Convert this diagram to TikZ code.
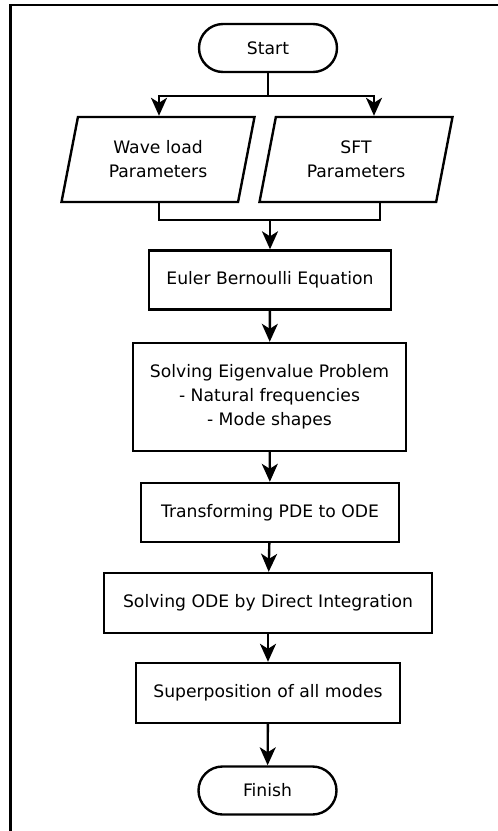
\documentclass[tikz,border=0pt]{standalone}
\usepackage{fontspec}
\setmainfont{DejaVu Sans}
\usetikzlibrary{shapes.geometric,arrows.meta}
\begin{document}
\begin{tikzpicture}[x=0.5pt,y=-0.5pt,line width=1.2pt,
    font=\fontsize{8.6}{12}\selectfont,
    >={Stealth[length=9pt,width=8pt,inset=2.5pt]},
    terminal/.style={draw,rectangle,rounded corners=12pt,minimum width=69pt,minimum height=24pt},
    io/.style={draw,trapezium,trapezium left angle=72,trapezium right angle=108,
      trapezium stretches body,minimum width=96.5pt,minimum height=42.5pt,align=center},
    process/.style={draw,rectangle,minimum height=29.5pt,align=center}]
      \useasboundingbox (0,0) rectangle (498,831);
      \draw (10.5,831) -- (10.5,5) -- (498,5);
      \node[terminal] (start) at (268,48) {Start};
      \node[io] (wave) at (158,159.5) {Wave load\\Parameters};
      \node[io] (sft) at (356,159.5) {SFT\\Parameters};
      \node[process,minimum width=121pt] (euler) at (270,280) {Euler Bernoulli Equation};
      \node[process,minimum width=136.5pt,minimum height=54pt] (eigen) at (269.5,397)
        {Solving Eigenvalue Problem\\- Natural frequencies\\- Mode shapes};
      \node[process,minimum width=129pt] (pde) at (270,512.5) {Transforming PDE to ODE};
      \node[process,minimum width=164pt,minimum height=30pt] (ode) at (268,603)
        {Solving ODE by Direct Integration};
      \node[process,minimum width=132pt,minimum height=30pt] (modes) at (268,693)
        {Superposition of all modes};
      \node[terminal] (finish) at (267.5,790.5) {Finish};
      \coordinate (forkL) at (159,96);
      \coordinate (forkR) at (374,96);
      \coordinate (joinL) at (159,220);
      \coordinate (joinR) at (380,220);
      \begin{scope}[->]
        \draw (start.south) |- (forkL) -- (forkL |- wave.north);
        \draw (start.south) |- (forkR) -- (forkR |- sft.north);
        \draw (euler.north |- joinL) -- (euler.north);
        \draw (euler) -- (eigen);
        \draw (eigen) -- (pde);
        \draw (pde) -- (ode);
        \draw (ode) -- (modes);
        \draw (modes) -- (finish);
      \end{scope}
      \draw (joinL |- wave.south) -- (joinL) -- (joinR) -- (joinR |- sft.south);
    \end{tikzpicture}
\end{document}
